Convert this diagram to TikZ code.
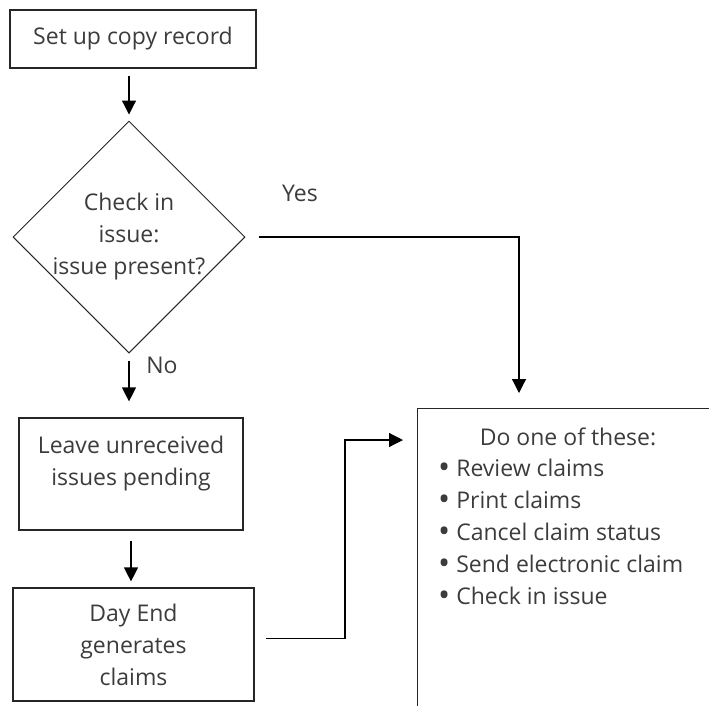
\documentclass[tikz,border=0pt]{standalone}
\usepackage{fontspec}
\usepackage{graphicx}
\setmainfont{Open Sans}
\usetikzlibrary{shapes.geometric,arrows.meta}
\definecolor{inkgray}{RGB}{60,60,60}
\newcommand{\flowfont}{\fontsize{23}{32}\selectfont}
\newcommand{\optbullet}{\raisebox{-2.5pt}{\scalebox{1.4}{\textbullet}}\hspace{6pt}}

\begin{document}
\begin{tikzpicture}[x=1pt, y=-1pt,
    box/.style={draw=black!85, line width=1.2pt, align=center, inner sep=0pt,
                font=\flowfont, text=inkgray},
    decision/.style={diamond, aspect=1, draw=black!85, line width=1pt, inner sep=-10pt,
                minimum size=232pt, align=center, font=\flowfont, text=inkgray},
    txt/.style={font=\flowfont, text=inkgray, inner sep=0pt},
    arrow/.style={-{Triangle[width=14pt,length=14pt]}, line width=1.2pt}
]
    \useasboundingbox (0,0) rectangle (709,705);
    \clip (0,0) rectangle (709,705);

    % Left column
    \node[box, minimum width=246pt, minimum height=58pt] (setup) at (133,39) {Set up copy record};
    \node[decision] (check) at (129,237) {Check in\\issue:\\issue present?};
    \node[box, minimum width=224pt, minimum height=112pt] (leave) at (131,474) {};
    \node[txt, align=center] (leavetxt) at (131,464) {Leave unreceived\\issues pending};
    \node[box, minimum width=241pt, minimum height=113pt] (dayend) at (133.5,644.5)
        {Day End\\generates\\claims};

    % Options box (runs off the page)
    \node[box, anchor=north west, minimum width=340pt, minimum height=340pt] (opts) at (417,408) {};
    \node[txt] (optshead) at (568,437) {Do one of these:};
    \node[txt, anchor=west, align=left] (optslist) at (438,532.5) {%
        \optbullet Review claims\\
        \optbullet Print claims\\
        \optbullet Cancel claim status\\
        \optbullet Send electronic claim\\
        \optbullet Check in issue};

    % Labels
    \node[txt] (yes) at (300,193) {Yes};
    \node[txt] (no) at (162,365) {No};

    % Connectors
    \coordinate (yesin) at (519,408);
    \coordinate (bend) at (345,440);
    \coordinate (optsin) at (417,440);
    \draw[arrow, shorten <=7pt, shorten >=6pt] (check.north |- setup.south) -- (check.north);
    \draw[arrow, shorten <=13pt, shorten >=15pt] (check.east) -| (yesin);
    \draw[arrow, shorten <=7pt, shorten >=16pt] (check.south) -- (check.south |- leave.north);
    \draw[arrow, shorten <=10pt, shorten >=6pt] (leave.south) -- (leave.south |- dayend.north);
    \draw[arrow, shorten <=11pt, shorten >=14pt] ([yshift=6pt]dayend.east) -| (bend) -- (optsin);
\end{tikzpicture}
\end{document}
